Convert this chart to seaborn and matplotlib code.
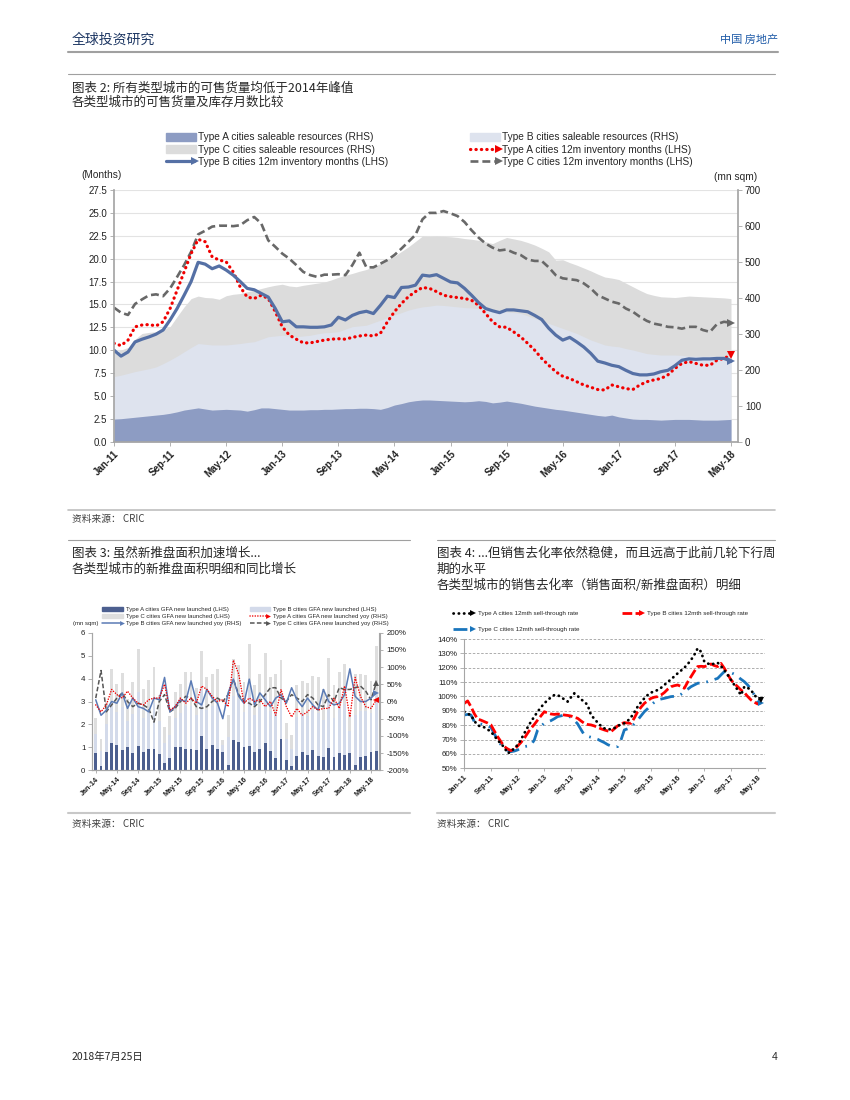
import numpy as np
import pandas as pd
import seaborn as sns
import matplotlib.pyplot as plt
from matplotlib.lines import Line2D
from matplotlib.patches import Patch
from matplotlib.legend_handler import HandlerBase
from matplotlib.ticker import FuncFormatter

# ---------------- chart 2: saleable resources & inventory months (Jan-11 .. May-18)
months_2 = pd.date_range('2011-01-01', periods=89, freq='MS').strftime('%b-%y')

res_a = [63, 64, 66, 68, 70, 72, 74, 76, 79, 83, 88,
         91, 94, 91, 88, 89, 90, 89, 88, 85, 89,
         94, 94, 92, 90, 88, 88, 88, 89, 89, 90,
         90, 91, 92, 92, 93, 93, 92, 90, 95, 102,
         106, 111, 114, 116, 116, 115, 114, 113, 112, 111,
         112, 114, 112, 108, 110, 113, 110, 107, 103, 99,
         96, 93, 90, 88, 85, 82, 79, 76, 73, 71,
         74, 69, 66, 63, 62, 62, 61, 60, 61, 62,
         62, 62, 61, 60, 60, 60, 61, 62]
res_b = [181, 185, 190, 195, 199, 203, 208, 217, 227, 238, 250,
         262, 273, 271, 269, 269, 269, 271, 273, 276, 278,
         285, 292, 294, 296, 294, 292, 294, 296, 300, 303,
         304, 306, 313, 320, 322, 324, 331, 338, 345, 352,
         359, 366, 371, 375, 377, 380, 379, 377, 375, 373,
         372, 370, 367, 364, 362, 361, 359, 357, 350, 343,
         336, 329, 322, 315, 308, 301, 292, 283, 276, 269,
         266, 264, 259, 255, 250, 245, 243, 241, 241, 241,
         240, 238, 238, 238, 238, 238, 237, 237]
res_c = [247, 255, 262, 285, 301, 304, 306, 313, 320, 348, 375,
         398, 405, 401, 400, 396, 406, 410, 412, 417, 421,
         426, 431, 435, 438, 433, 431, 435, 438, 441, 444,
         450, 457, 463, 468, 474, 479, 487, 495, 505, 516,
         529, 542, 557, 572, 571, 572, 571, 570, 568, 565,
         563, 560, 556, 551, 560, 568, 564, 560, 554, 547,
         538, 528, 505, 506, 498, 491, 483, 475, 466, 458,
         455, 451, 441, 431, 421, 412, 407, 403, 402, 401,
         403, 405, 404, 403, 402, 401, 400, 398]
inv_a = [10.75, 10.5, 11.1, 12.55, 12.75, 12.8, 12.65, 13.1, 14.55, 16.55, 18.55,
         20.55, 22.1, 21.85, 20.2, 19.85, 19.65, 18.55, 16.9, 15.8, 15.65,
         16.0, 15.65, 14.2, 12.55, 11.65, 11.2, 10.8, 10.8, 10.95, 11.1,
         11.2, 11.25, 11.2, 11.4, 11.55, 11.65, 11.55, 11.85, 13.1, 14.2,
         15.1, 15.85, 16.4, 16.85, 16.75, 16.4, 16.0, 15.85, 15.75, 15.65,
         15.45, 14.9, 14.0, 13.1, 12.55, 12.5, 12.0, 11.45, 10.75, 10.0,
         9.1, 8.35, 7.65, 7.15, 6.9, 6.55, 6.2, 5.95, 5.7, 5.65,
         6.2, 6.0, 5.8, 5.7, 6.2, 6.55, 6.75, 6.9, 7.3, 8.0,
         8.55, 8.75, 8.55, 8.35, 8.35, 8.9, 9.1, 9.45]
inv_b = [10.0, 9.35, 9.8, 10.9, 11.2, 11.45, 11.75, 12.2, 13.3, 14.55, 16.0,
         17.5, 19.6, 19.4, 18.9, 19.2, 18.75, 18.2, 17.5, 16.75, 16.6,
         16.2, 15.8, 14.55, 13.1, 13.2, 12.55, 12.55, 12.5, 12.5, 12.55,
         12.75, 13.6, 13.3, 13.8, 14.1, 14.25, 14.0, 14.9, 15.9, 15.75,
         16.85, 16.9, 17.1, 18.2, 18.1, 18.25, 17.85, 17.45, 17.35, 16.75,
         16.0, 15.2, 14.55, 14.3, 14.1, 14.4, 14.4, 14.3, 14.2, 13.8,
         13.35, 12.4, 11.65, 11.1, 11.4, 10.9, 10.35, 9.65, 8.8, 8.6,
         8.35, 8.2, 7.8, 7.45, 7.3, 7.3, 7.4, 7.65, 7.8, 8.3,
         8.9, 9.05, 9.0, 9.05, 9.05, 9.1, 9.1, 8.8]
inv_c = [14.65, 14.1, 13.85, 15.05, 15.55, 16.0, 16.1, 15.9, 16.75, 18.0, 19.3,
         20.75, 22.65, 23.05, 23.5, 23.6, 23.6, 23.55, 23.65, 24.2, 24.55,
         23.85, 22.0, 21.3, 20.55, 20.0, 19.3, 18.55, 18.2, 18.0, 18.25,
         18.25, 18.3, 18.2, 19.3, 20.65, 19.05, 19.05, 19.45, 19.85, 20.4,
         21.1, 21.85, 22.6, 24.3, 25.0, 25.0, 25.2, 24.95, 24.65, 24.0,
         23.1, 22.3, 21.65, 21.2, 20.9, 21.0, 20.65, 20.4, 19.9, 19.75,
         19.75, 19.05, 18.2, 17.85, 17.75, 17.65, 17.3, 16.75, 16.0, 15.65,
         15.3, 15.1, 14.55, 14.2, 13.65, 13.2, 12.9, 12.75, 12.55, 12.5,
         12.35, 12.55, 12.55, 12.2, 12.0, 12.85, 13.1, 13.0]

# ---------------- chart 3: GFA new launched (Jan-14 .. Jun-18)
months_3 = pd.date_range('2014-01-01', periods=54, freq='MS').strftime('%b-%y')
gfa_a = [0.75, 0.2, 0.8, 1.2, 1.1, 0.9, 1.0, 0.75, 1.05, 0.8,
         0.95, 0.92, 0.7, 0.3, 0.55, 1.0, 1.02, 0.95, 0.95, 0.9,
         1.5, 0.95, 1.1, 0.95, 0.8, 0.25, 1.3, 1.25, 1.0, 1.05,
         0.8, 0.95, 1.2, 0.85, 0.55, 1.35, 0.45, 0.2, 0.62, 0.8,
         0.68, 0.88, 0.62, 0.6, 0.98, 0.6, 0.75, 0.68, 0.75, 0.22,
         0.6, 0.62, 0.78, 0.85]
gfa_b = [0.85, 0.65, 1.2, 1.8, 1.45, 1.85, 1.15, 1.7, 2.35, 1.5,
         1.65, 2.0, 1.45, 0.9, 1.0, 1.3, 1.5, 1.85, 1.85, 1.5,
         2.05, 1.7, 1.7, 1.9, 0.3, 1.2, 1.95, 1.85, 1.55, 2.45,
         1.6, 1.8, 2.15, 1.75, 2.0, 1.9, 0.9, 0.75, 1.7, 1.7,
         1.7, 1.75, 1.9, 1.6, 2.15, 1.7, 1.95, 2.2, 0.95, 2.2,
         2.0, 1.95, 1.7, 2.5]
gfa_c = [0.7, 0.5, 1.0, 1.4, 1.2, 1.5, 0.95, 1.4, 1.9, 1.25,
         1.35, 1.58, 1.15, 0.7, 0.8, 1.1, 1.23, 1.5, 1.5, 1.2,
         1.65, 1.4, 1.4, 1.55, 0.2, 0.95, 1.6, 1.5, 1.3, 2.0,
         1.3, 1.45, 1.75, 1.45, 1.65, 1.55, 0.7, 0.6, 1.38, 1.4,
         1.42, 1.47, 1.53, 1.35, 1.77, 1.4, 1.6, 1.77, 0.75, 1.78,
         1.6, 1.58, 1.42, 2.05]
yoy_a = [-10, -30, -10, 35, 20, 10, 30, 10, -5, -10,
         5, 10, 10, 50, -25, -15, 10, -5, 10, -5,
         45, 35, 15, 0, 5, -15, 120, 80, -5, 10,
         0, 5, -15, 0, -40, 35, -15, -45, -20, -40,
         -30, -15, -25, -20, -20, 10, -20, 45, -45, 70,
         15, -15, -20, 5]
yoy_b = [5, -40, -25, 0, -5, 25, -20, 10, -15, -20,
         -30, 10, 5, 70, -30, -15, 5, 0, 60, 0,
         -10, 35, 10, -5, -50, 25, 65, 15, -5, 65,
         -10, 25, 5, -15, 10, 20, -5, 40, 5, -15,
         10, -10, -25, 35, 0, -10, -5, 20, 95, 15,
         0, 0, 10, 25]
yoy_c = [10, 90, -30, -10, 10, 25, 0, -15, -5, -10,
         -20, -60, 0, 20, -30, -20, 0, 15, 10, -15,
         -20, -15, 0, 10, 0, 20, 65, 20, 0, -5,
         -15, 0, 20, 40, 40, 10, 0, 20, 10, 0,
         20, 10, -10, -15, 20, 0, 40, 35, 35, 40,
         45, 30, 5, 55]

# ---------------- chart 4: 12mth sell-through rate, % (Jan-11 .. Jun-18)
months_4 = pd.date_range('2011-01-01', periods=90, freq='MS').strftime('%b-%y')
st_a = [89.4, 88, 87, 83, 80, 79, 78.5, 77, 75.5, 72.5,
        69.7, 67, 64.6, 60.4, 61.6, 64, 66.2, 70, 74.4, 78.5,
        82.5, 86, 89.4, 92.5, 95.2, 97.5, 99.4, 101, 101, 99.5,
        98, 96.4, 99.4, 102.2, 100.3, 98, 96.4, 94, 87.1, 84.5,
        81.8, 79.5, 77.8, 77.3, 77.1, 78, 79.5, 80.5, 81.3, 83,
        85.5, 89, 92.9, 96, 98.7, 101, 102.7, 103.5, 104.5, 106,
        108, 110, 111.9, 114, 116.1, 118, 120, 122.5, 125.4, 129,
        133.5, 131.2, 124.2, 123, 122, 123, 123.5, 121, 118.4, 115,
        111.5, 108, 104.5, 101, 106.8, 106, 104.5, 101, 98.7, 97.6]
st_b = [95.2, 96.9, 92.9, 88, 84.3, 83.5, 82.5, 81.5, 80.2, 76,
        72, 68.5, 65.1, 63.5, 62.3, 63.5, 65.5, 68, 70.9, 74.5,
        77.8, 80.5, 83.6, 86.5, 89.4, 88.5, 87.8, 87.5, 87.8, 87.5,
        87.1, 86.8, 86.4, 85.5, 84.8, 83, 81.3, 80.5, 80.2, 79.5,
        78.5, 77.5, 76.7, 76, 75.5, 77.5, 79.5, 81, 81.8, 81.5,
        81.3, 85, 89.4, 92.5, 95.2, 97, 98.7, 99.5, 99.9, 101,
        102.7, 105, 106.8, 107.5, 108, 107, 105.7, 110, 113.8, 117.5,
        120.8, 121, 120.8, 121.5, 122.6, 121.5, 120.8, 123, 119.6, 115.5,
        111.5, 109, 106.8, 104.5, 102.7, 100, 97.6, 96, 94.8, 95.7]
st_c = [87.1, 87.5, 87.1, 82.5, 81.3, 80.8, 80.2, 79.5, 78.5, 74,
        69.7, 66.5, 63.9, 62.5, 61.6, 62, 62.8, 64, 65.1, 65.5,
        66.2, 69.7, 76.7, 79.5, 81.3, 82.3, 83.2, 84.5, 86, 86.5,
        87.1, 86.5, 85.5, 83.5, 80.9, 77, 73.2, 72.3, 71.6, 71,
        70.2, 69, 67.9, 66.5, 65.5, 65, 65.1, 69.7, 76.7, 77.5,
        78.5, 81, 83.6, 86.5, 89.4, 91.5, 94, 96, 97.6, 98.2,
        98.7, 99.3, 99.9, 100.1, 100.3, 101.5, 103.4, 105, 106.8, 108,
        109.2, 109.4, 109.6, 110.3, 111, 111.8, 112.6, 115, 117.3, 117,
        116.6, 115.5, 113.8, 112, 110.3, 108, 105, 101, 96.4, 95.7]

# colours
C_RES_A, C_RES_B, C_RES_C = '#8D9CC3', '#DEE3EE', '#DCDCDC'
C_BLUE, C_RED, C_GREY = '#5570A5', '#F00000', '#686868'
SPINE = '#A6A6A6'

sns.set_theme(style='white')
plt.rcParams['font.family'] = ['Liberation Sans', 'Noto Sans CJK SC', 'DejaVu Sans']
CJK = ['Noto Sans CJK SC', 'DejaVu Sans']

W, H = 850, 1100
fig = plt.figure(figsize=(8.5, 11), dpi=100)


def box(x0, y0, x1, y1):
    return [x0 / W, 1 - y1 / H, (x1 - x0) / W, (y1 - y0) / H]


def ptext(x, y, s, **kw):
    kw.setdefault('va', 'center')
    fig.text(x / W, 1 - y / H, s, **kw)


def hline(x0, x1, y, **kw):
    fig.add_artist(Line2D([x0 / W, x1 / W], [1 - y / H, 1 - y / H],
                          transform=fig.transFigure, **kw))


class ArrowLine(HandlerBase):
    # legend line with an arrow head at its right end
    def create_artists(self, legend, orig, xd, yd, w, h, fs, trans):
        y = h / 2 - yd
        ln = Line2D([-xd, w - xd - 2], [y, y])
        ln.update_from(orig)
        ln.set_marker('')
        ln.set_transform(trans)
        head = Line2D([w - xd - 1], [y], marker='>', linestyle='none',
                      color=orig.get_color(), markersize=orig.get_markersize(),
                      markeredgewidth=0, transform=trans)
        return [ln, head]


def legend_at(handles, labels, x, y, fs, hl, pad=0.3, sp=0.2):
    fig.legend(handles, labels, loc='upper left', bbox_to_anchor=(x / W, 1 - y / H),
               frameon=False, fontsize=fs, handlelength=hl, handletextpad=pad,
               labelspacing=sp, borderaxespad=0, borderpad=0,
               handler_map={Line2D: ArrowLine()})


def style_ticks(ax, size, color=SPINE):
    ax.tick_params(which='both', direction='out', length=3, width=0.6, color=color,
                   labelsize=size, labelcolor='#222222', pad=2)


# ---------------- page furniture
ptext(72, 40, '全球投资研究', fontsize=10, color='#1F3864', family=CJK)
ptext(778, 40, '中国 房地产', fontsize=8, color='#1F5BA8', ha='right', family=CJK)
hline(68, 778, 52, color='#A0A0A0', lw=1.5)
hline(68, 775, 74, color='#A0A0A0', lw=0.8)
ptext(72, 88, '图表 2: 所有类型城市的可售货量均低于2014年峰值', fontsize=9, family=CJK)
ptext(72, 102, '各类型城市的可售货量及库存月数比较', fontsize=9, family=CJK)
hline(68, 775, 510, color='#BFBFBF', lw=1.2)
ptext(72, 519, '资料来源： CRIC', fontsize=7, color='#404040', family=CJK)
hline(68, 410, 540, color='#A0A0A0', lw=0.8)
hline(437, 775, 540, color='#A0A0A0', lw=0.8)
ptext(72, 553, '图表 3: 虽然新推盘面积加速增长...', fontsize=9, family=CJK)
ptext(72, 569, '各类型城市的新推盘面积明细和同比增长', fontsize=9, family=CJK)
ptext(437, 553, '图表 4: ...但销售去化率依然稳健，而且远高于此前几轮下行周', fontsize=9, family=CJK)
ptext(437, 569, '期的水平', fontsize=9, family=CJK)
ptext(437, 585, '各类型城市的销售去化率（销售面积/新推盘面积）明细', fontsize=9, family=CJK)
hline(68, 410, 813, color='#C8C8C8', lw=1.5)
hline(437, 775, 813, color='#C8C8C8', lw=1.5)
ptext(72, 824, '资料来源： CRIC', fontsize=7, color='#404040', family=CJK)
ptext(437, 824, '资料来源： CRIC', fontsize=7, color='#404040', family=CJK)
ptext(72, 1057, '2018年7月25日', fontsize=7.5, family=CJK)
ptext(778, 1057, '4', fontsize=7.5, ha='right')

# ---------------- chart 2
x1 = np.arange(len(months_2))
ax_l = fig.add_axes(box(114, 190, 738, 441.7))
ax_r = ax_l.twinx()
ax_g = ax_l.twinx()
ax_g.set_zorder(0)
ax_r.set_zorder(1)
ax_l.set_zorder(2)
ax_l.patch.set_visible(False)

ax_g.set_ylim(0, 27.5)
ax_g.set_yticks(np.arange(0, 27.51, 2.5))
ax_g.yaxis.grid(True, color='#E3E3E3', lw=0.8)
ax_g.tick_params(right=False, labelright=False)
for s in ax_g.spines.values():
    s.set_visible(False)

ax_r.fill_between(x1, 0, res_c, color=C_RES_C, lw=0)
ax_r.fill_between(x1, 0, res_b, color=C_RES_B, lw=0)
ax_r.fill_between(x1, 0, res_a, color=C_RES_A, lw=0)
ax_r.set_ylim(0, 700)
ax_r.set_yticks(range(0, 701, 100))

sns.lineplot(x=x1, y=inv_c, ax=ax_l, color=C_GREY, lw=1.9, linestyle=(0, (3, 1.5)))
sns.lineplot(x=x1, y=inv_a, ax=ax_l, color=C_RED, lw=2.3, linestyle=(0, (0.1, 1.6)),
             dash_capstyle='round')
sns.lineplot(x=x1, y=inv_b, ax=ax_l, color=C_BLUE, lw=2.3)
ax_l.plot(x1[-1], inv_c[-1], marker='>', color=C_GREY, ms=6, mew=0)
ax_l.plot(x1[-1], inv_a[-1], marker='v', color=C_RED, ms=6, mew=0)
ax_l.plot(x1[-1], inv_b[-1], marker='>', color=C_BLUE, ms=6, mew=0)

ax_l.set_xlim(0, 89)
ax_l.set_ylim(0, 27.5)
ax_l.set_yticks(np.arange(0, 27.51, 2.5))
ax_l.yaxis.set_major_formatter(FuncFormatter(lambda v, p: f'{v:.1f}'))
ax_l.set_xticks(x1[::8])
ax_l.set_xticklabels(months_2[::8], rotation=45, ha='right', rotation_mode='anchor',
                     fontweight='bold')
ax_l.set_xlabel('')
ax_l.set_ylabel('')
style_ticks(ax_l, 7)
ax_l.tick_params(left=True, bottom=True)
style_ticks(ax_r, 7)
ax_r.tick_params(right=True)
for name, s in ax_l.spines.items():
    s.set_visible(name in ('left', 'bottom'))
    s.set_color(SPINE)
for name, s in ax_r.spines.items():
    s.set_visible(name == 'right')
    s.set_color(SPINE)

ptext(81, 175, '(Months)', fontsize=7.3)
ptext(714, 177, '(mn sqm)', fontsize=7.3)

h_ra, h_rb, h_rc = Patch(color=C_RES_A), Patch(color=C_RES_B), Patch(color=C_RES_C)
h_ia = Line2D([], [], color=C_RED, lw=2.3, linestyle=(0, (0.1, 1.6)), dash_capstyle='round', ms=6)
h_ib = Line2D([], [], color=C_BLUE, lw=2.3, ms=6)
h_ic = Line2D([], [], color=C_GREY, lw=1.9, linestyle=(0, (3, 1.5)), ms=6)
legend_at([h_ra, h_rc, h_ib],
          ['Type A cities saleable resources (RHS)', 'Type C cities saleable resources (RHS)',
           'Type B cities 12m inventory months (LHS)'], 166, 132.5, 7.3, 3.0, pad=0.2, sp=0.2)
legend_at([h_rb, h_ia, h_ic],
          ['Type B cities saleable resources (RHS)', 'Type A cities 12m inventory months (LHS)',
           'Type C cities 12m inventory months (LHS)'], 470, 132.5, 7.3, 3.0, pad=0.2, sp=0.2)

# ---------------- chart 3
x3 = np.arange(len(months_3))
ax3 = fig.add_axes(box(92.3, 632.7, 379.5, 770.3))
ax3.bar(x3, gfa_a, width=0.55, color='#4C5F8F', lw=0)
ax3.bar(x3, gfa_b, width=0.55, bottom=gfa_a, color='#D3DAEA', lw=0)
ax3.bar(x3, gfa_c, width=0.55, bottom=np.add(gfa_a, gfa_b), color='#DEDEDE', lw=0)
ax3.set_xlim(-0.65, 53.6)
ax3.set_ylim(0, 6)
ax3.set_yticks(range(0, 7))
ax3.set_xticks(x3[::4])
ax3.set_xticklabels(months_3[::4], rotation=45, ha='right', rotation_mode='anchor',
                    fontweight='bold')
style_ticks(ax3, 5.7)
ax3.tick_params(axis='x', labelsize=5.2, length=2)
ax3.tick_params(left=True, bottom=True)

ax3r = ax3.twinx()
sns.lineplot(x=x3, y=yoy_c, ax=ax3r, color='#555555', lw=1.1, linestyle=(0, (3, 1.5)))
sns.lineplot(x=x3, y=yoy_b, ax=ax3r, color='#5B7BB5', lw=1.1)
sns.lineplot(x=x3, y=yoy_a, ax=ax3r, color=C_RED, lw=1.1, linestyle=(0, (0.1, 1.6)),
             dash_capstyle='round')
ax3r.plot(x3[-1], yoy_c[-1], marker='^', color='#555555', ms=4, mew=0)
ax3r.plot(x3[-1], yoy_a[-1], marker='<', color=C_RED, ms=4, mew=0)
ax3r.plot(x3[-1], yoy_b[-1], marker='>', color='#5B7BB5', ms=4, mew=0)
ax3r.set_ylim(-200, 200)
ax3r.set_yticks(range(-200, 201, 50))
ax3r.yaxis.set_major_formatter(FuncFormatter(lambda v, p: f'{int(v)}%'))
ax3r.set_ylabel('')
style_ticks(ax3r, 5.7)
ax3r.tick_params(right=True)
for a in (ax3, ax3r):
    for name, s in a.spines.items():
        s.set_color(SPINE)
        s.set_linewidth(0.8)
        s.set_visible(name in ('left', 'bottom', 'right'))

ptext(73, 624, '(mn sqm)', fontsize=4.3)
legend_at([Patch(color='#4C5F8F'), Patch(color='#DEDEDE'),
           Line2D([], [], color='#5B7BB5', lw=1.1, ms=3.5)],
          ['Type A cities GFA new launched (LHS)', 'Type C cities GFA new launched (LHS)',
           'Type B cities GFA new launched yoy (RHS)'], 101.7, 607.2, 4.3, 3.6, pad=0.55, sp=0.28)
legend_at([Patch(color='#D3DAEA'),
           Line2D([], [], color=C_RED, lw=1.1, linestyle=(0, (0.1, 1.6)), dash_capstyle='round', ms=3.5),
           Line2D([], [], color='#555555', lw=1.1, linestyle=(0, (3, 1.5)), ms=3.5)],
          ['Type B cities GFA new launched (LHS)', 'Type A cities GFA new launched yoy (RHS)',
           'Type C cities GFA new launched yoy (RHS)'], 250, 607.2, 4.3, 3.3, pad=0.55, sp=0.28)

# ---------------- chart 4
x4 = np.arange(len(months_4))
ax4 = fig.add_axes(box(464.3, 639, 765, 768.3))
ls_c = (0, (5, 2.5, 0.6, 2.5))
ls_b = (0, (3.5, 1.2))
ls_a = (0, (0.1, 1.8))
sns.lineplot(x=x4, y=st_c, ax=ax4, color='#1A75BC', lw=2.0, linestyle=ls_c)
sns.lineplot(x=x4, y=st_b, ax=ax4, color='#FF0000', lw=2.0, linestyle=ls_b)
sns.lineplot(x=x4, y=st_a, ax=ax4, color='black', lw=2.0, linestyle=ls_a, dash_capstyle='round')
ax4.plot(x4[-1], st_c[-1], marker='>', color='#1A75BC', ms=4, mew=0)
ax4.plot(x4[-1], st_a[-1], marker='v', color='black', ms=4, mew=0)
ax4.set_xlim(0, 90.2)
ax4.set_ylim(50, 140)
ax4.set_yticks(range(50, 141, 10))
ax4.yaxis.set_major_formatter(FuncFormatter(lambda v, p: f'{int(v)}%'))
ax4.yaxis.grid(True, color='#A0A0A0', lw=0.6, linestyle=(0, (3, 2)))
ax4.set_axisbelow(True)
ax4.set_xticks(x4[::8])
ax4.set_xticklabels(months_4[::8], rotation=45, ha='right', rotation_mode='anchor',
                    fontweight='bold')
style_ticks(ax4, 5.7)
ax4.tick_params(axis='x', labelsize=5.4, length=2)
ax4.tick_params(left=True, bottom=True)
for name, s in ax4.spines.items():
    s.set_color(SPINE)
    s.set_linewidth(0.8)
    s.set_visible(name in ('left', 'bottom'))

h_sa = Line2D([], [], color='black', lw=2.0, linestyle=ls_a, dash_capstyle='round', ms=4.5)
h_sb = Line2D([], [], color='#FF0000', lw=2.0, linestyle=ls_b, ms=4.5)
h_sc = Line2D([], [], color='#1A75BC', lw=2.0, linestyle=ls_c, ms=4.5)
legend_at([h_sa, h_sc], ['Type A cities 12mth sell-through rate',
                         'Type C cities 12mth sell-through rate'], 453, 611, 4.5, 3.5, pad=0.5, sp=1.7)
legend_at([h_sb], ['Type B cities 12mth sell-through rate'], 621.7, 611, 4.5, 3.5, pad=0.5, sp=1.7)

fig.savefig('out.png', dpi=100)
